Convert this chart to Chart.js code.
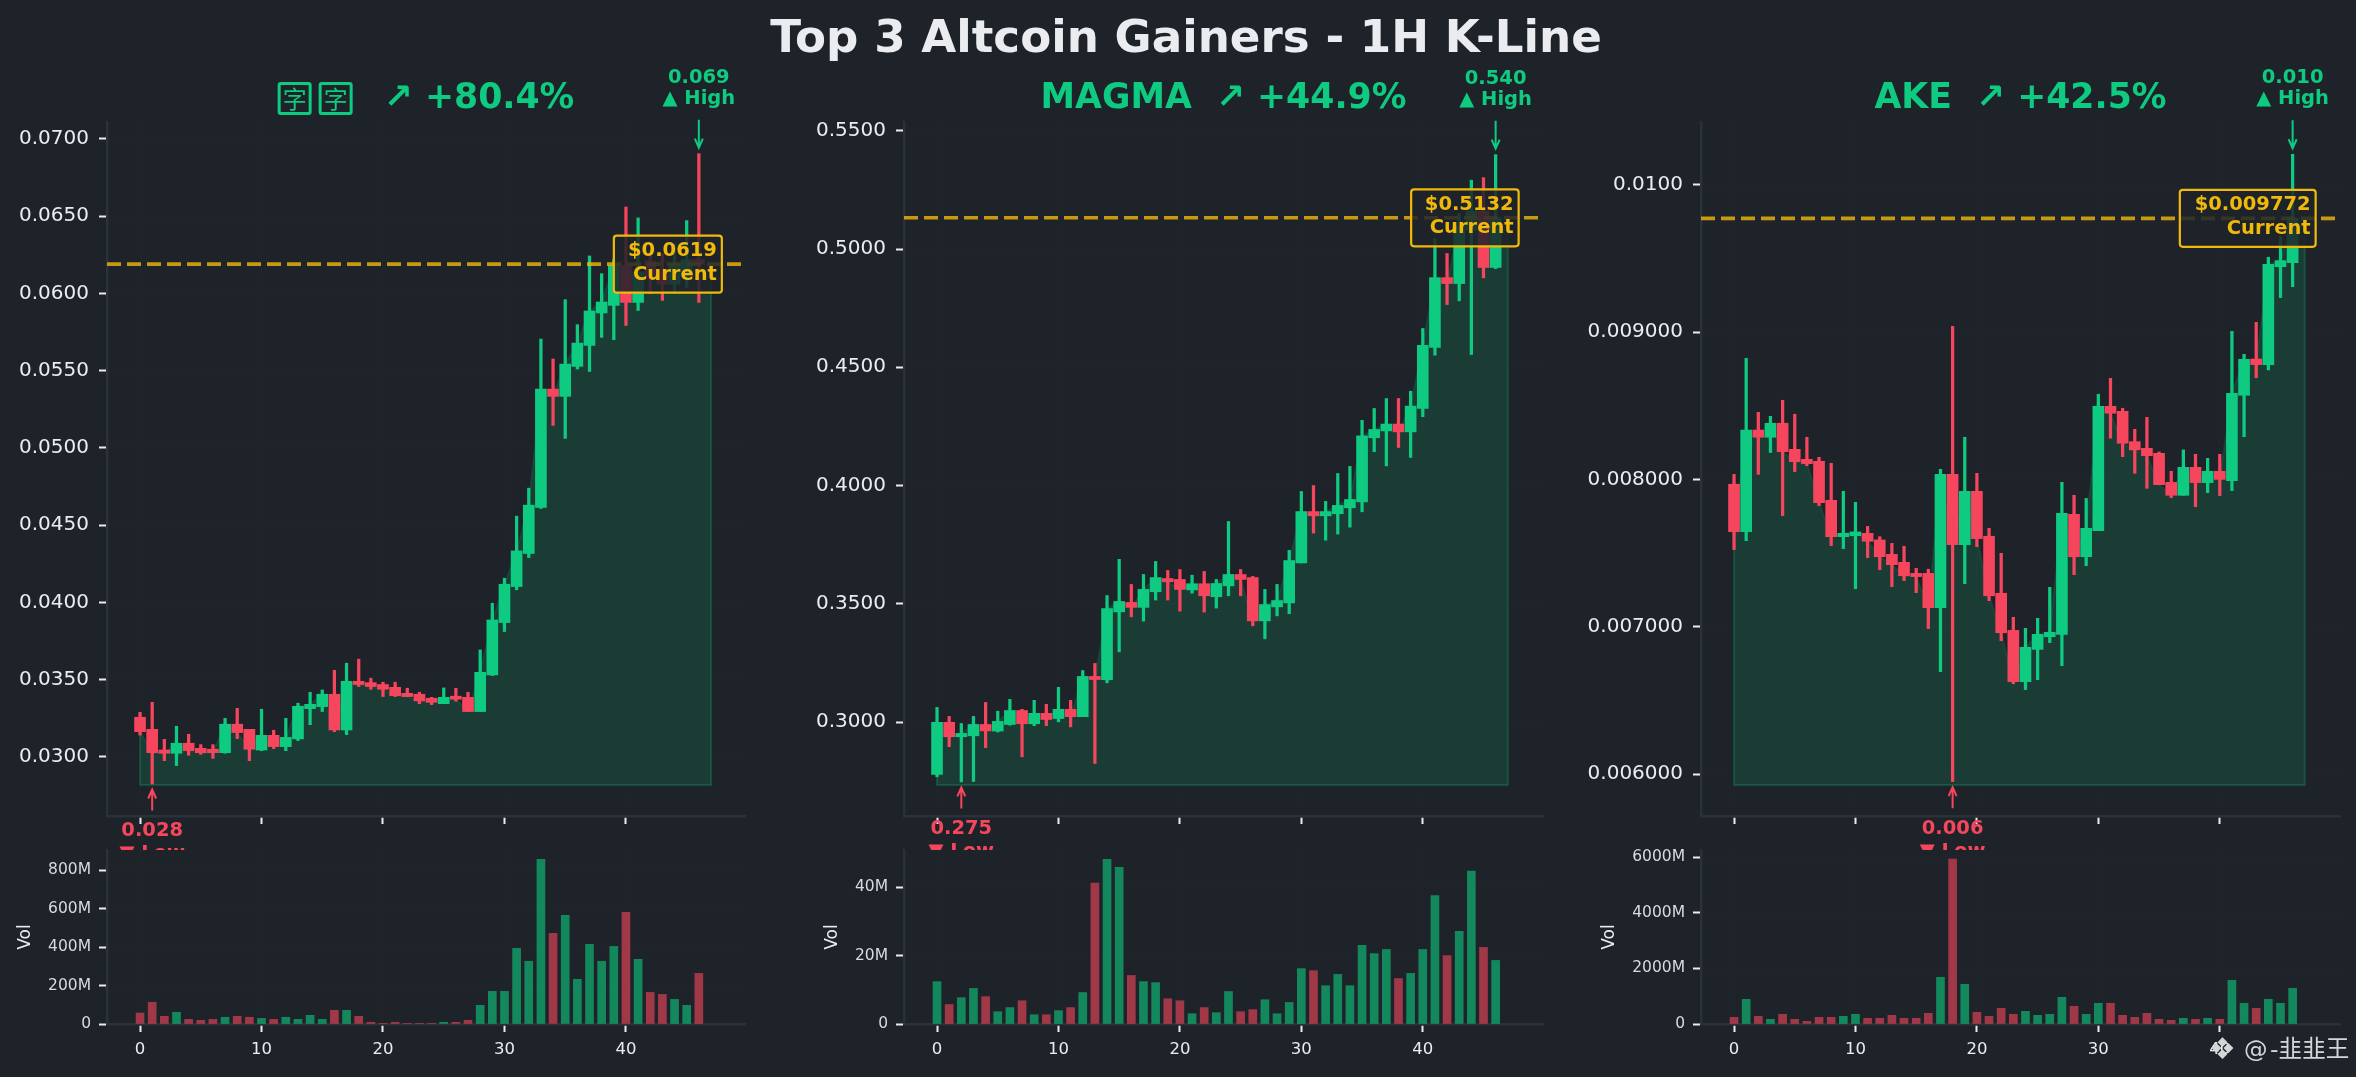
<!DOCTYPE html>
<html><head><meta charset="utf-8">
<script src="https://cdn.jsdelivr.net/npm/chart.js@4"></script>
<style>
html,body{margin:0;padding:0;background:#1e2329;width:2356px;height:1077px;overflow:hidden}
canvas{position:absolute;left:0;top:0}
.t{position:absolute;font-family:"DejaVu Sans";font-weight:700;white-space:pre;line-height:1;z-index:20}
.box{display:inline-block;box-sizing:border-box;width:34px;height:33px;border:3px solid #0ecb81;border-radius:3px;font:400 24px/26px "Noto Sans CJK SC";text-align:center;vertical-align:0;margin-right:7px}
</style></head><body>
<script>
const p1Open=[.03257,.03179,.03045,.03024,.03089,.03056,.0305,.03028,.03212,.03179,.03045,.0314,.03067,.03117,.03313,.03326,.03406,.03175,.0349,.03481,.03469,.03451,.03412,.03406,.0338,.03345,.03393,.03386,.03294,.03531,.0387,.04103,.04317,.04615,.05381,.05334,.05528,.05664,.05874,.05923,.0618,.05942,.0621,.0614,.0606,.0612,.0622];
const p1Close=[.03164,.03028,.03024,.03089,.03041,.03028,.03028,.03212,.03158,.0305,.0314,.03067,.03127,.03328,.03341,.03406,.03175,.0349,.03469,.03456,.03438,.03397,.03391,.03363,.03354,.03386,.03374,.03294,.03548,.03887,.04118,.04334,.0463,.05381,.05334,.05543,.05679,.05887,.05945,.0618,.05942,.0614,.061,.0606,.0619,.0622,.0619];
const p1High=[.03289,.03354,.03114,.03199,.03147,.0308,.0308,.0325,.03315,.03179,.03309,.03173,.0325,.03348,.03419,.03434,.03561,.03607,.03633,.0351,.03484,.03484,.03445,.03419,.03386,.03447,.03445,.03419,.03693,.03995,.04157,.04559,.0474,.05705,.05576,.0596,.05798,.06243,.06128,.0622,.0656,.06489,.0628,.0626,.0632,.06472,.06905];
const p1Low=[.03142,.02825,.02976,.02944,.03011,.03017,.02991,.03024,.03119,.02976,.03041,.03054,.03041,.03106,.03209,.03294,.03164,.03145,.03456,.03438,.03391,.03391,.03391,.03345,.03339,.03345,.03361,.03294,.03294,.03527,.03812,.04082,.04291,.04608,.05146,.05062,.05511,.05495,.05716,.05701,.05793,.0589,.06,.05955,.0601,.0604,.05942];
const p1Vol=[57,113,40,61,24,19,24,35,40,35,29,24,35,24,45,24,71,71,40,9,2,9,2,2,2,9,9,19,97,170,170,393,326,855,471,565,232,414,326,403,580,336,164,154,128,97,263];

const p2Open=[.27788,.2999,.2938,.2942,.299,.2962,.299,.3049,.2993,.3037,.3015,.3054,.3023,.3193,.3179,.3466,.3506,.3485,.3551,.3607,.3603,.3559,.3585,.353,.3576,.3624,.3611,.3428,.3487,.3504,.3673,.389,.3872,.3881,.3906,.3931,.4202,.4231,.426,.4227,.4326,.4584,.4879,.4854,.508,.516,.4922];
const p2Close=[.2999,.2938,.2952,.299,.2963,.3003,.3049,.2993,.3037,.3011,.3054,.3023,.3193,.318,.348,.351,.3485,.3561,.3611,.3593,.3561,.3585,.3534,.3586,.3624,.3603,.3428,.3497,.3514,.3683,.389,.3872,.389,.3916,.3941,.421,.4237,.426,.4227,.4336,.4593,.4879,.4854,.51,.516,.4922,.5132];
const p2High=[.3062,.3024,.2994,.3024,.3083,.3046,.3096,.3054,.3092,.3075,.3147,.3092,.3218,.3248,.3535,.3688,.3582,.3624,.3679,.3641,.3645,.3621,.3637,.3603,.3848,.3645,.3616,.3561,.3582,.3726,.3975,.4,.3933,.4051,.4081,.4276,.4326,.4368,.4368,.4399,.4664,.5044,.4981,.515,.5291,.5302,.5399];
const p2Low=[.2769,.2896,.2747,.2749,.2892,.2958,.2987,.2853,.2985,.2985,.3001,.298,.3023,.2825,.3166,.3297,.3445,.3427,.3516,.3516,.3469,.3545,.3465,.3482,.3534,.3534,.3407,.3352,.3449,.3458,.3673,.3799,.3769,.3795,.3824,.3889,.4143,.4083,.4161,.4119,.4291,.4551,.4765,.4781,.4554,.4878,.4917];
const p2Vol=[12.4,5.7,7.7,10.4,8,3.6,4.8,6.8,2.7,2.7,3.9,4.8,9.2,41.2,48.2,45.8,14.2,12.4,12.1,7.4,6.8,3,4.8,3.3,9.5,3.6,4.2,7.1,3,6.3,16.2,15.6,11.2,14.5,11.2,23,20.6,21.8,13.3,14.8,21.8,37.6,20,27.1,44.7,22.4,18.6];

const p3Open=[.007967,.007645,.008335,.008286,.008381,.008204,.008136,.008123,.007858,.007611,.007618,.007634,.007589,.007491,.007437,.007362,.007362,.007129,.008034,.007557,.007919,.007614,.007227,.006975,.006627,.006846,.006932,.006948,.007763,.007475,.007652,.008496,.008462,.008256,.008211,.008177,.00798,.007892,.008082,.007978,.008055,.007991,.008571,.008817,.008779,.009444,.009471];
const p3Close=[.007645,.008335,.008286,.008381,.008188,.00812,.008107,.007842,.007611,.007634,.007643,.00758,.007475,.007421,.007346,.00734,.007129,.008034,.007557,.007919,.007598,.00721,.006959,.006627,.00686,.006948,.006962,.00777,.007475,.007668,.008496,.008449,.008245,.0082,.008161,.007964,.007892,.008082,.007978,.008055,.008,.008584,.008815,.008779,.00946,.009485,.009772];
const p3High=[.008034,.008822,.008455,.008428,.008537,.008442,.008286,.00815,.008109,.007919,.007844,.007681,.007611,.007566,.007546,.007396,.00739,.008068,.009039,.008286,.008041,.007668,.007498,.007064,.006989,.007057,.007267,.00798,.007892,.007871,.008578,.008686,.008483,.00834,.008421,.008186,.008055,.0082,.00817,.008143,.00817,.009005,.008849,.009066,.009508,.009648,.010207];
const p3Low=[.007523,.007584,.008034,.008182,.007754,.008053,.008093,.007822,.00755,.00753,.007258,.007469,.007387,.007272,.007313,.007231,.006987,.006695,.005948,.007292,.007543,.007177,.006905,.006613,.006573,.00664,.006892,.006735,.007353,.007414,.007652,.008279,.008154,.008041,.007939,.007964,.007876,.007892,.007815,.00791,.00789,.007924,.00829,.00869,.008743,.009234,.009308];
const p3Vol=[240,889,276,168,348,168,96,240,240,276,348,204,204,312,204,204,384,1681,5933,1429,420,276,564,348,456,312,348,961,637,348,745,745,312,240,384,168,132,204,168,204,168,1573,745,564,889,745,1285];

const xTicks=[0,10,20,30,40];
const p1YTicks=[.03,.035,.04,.045,.05,.055,.06,.065,.07];
const p2YTicks=[.3,.35,.4,.45,.5,.55];
const p3YTicks=[.006,.007,.008,.009,.01];
const p1VolTicks=[0,200,400,600,800];
const p2VolTicks=[0,20,40];
const p3VolTicks=[0,2000,4000,6000];
const names=['字字','MAGMA','AKE'];
const gains=['↗ +80.4%','↗ +44.9%','↗ +42.5%'];
const currents=[.0619,.5132,.009772];
const currentLabels=['$0.0619','$0.5132','$0.009772'];
const highLabels=['0.069','0.540','0.010'];
const lowLabels=['0.028','0.275','0.006'];
const areaBases=[.02819,.2734,.005925];
const title='Top 3 Altcoin Gainers - 1H K-Line';
const watermark='@ -韭韭王';

const W=2356,H=1077,BG='#1e2329',UP='#0ecb81',DOWN='#f6465d',GOLD='#f0b90b',SPINE='#2b3139',TXT='#eaecef';
const layouts=[
 {l:107,r:745,x0:-2.72,x1:49.8,y0:.02618,y1:.0711,v1:904,volX:26,boxW:108},
 {l:904,r:1543,x0:-2.72,x1:49.9,y0:.2603,y1:.5537,v1:50.9,volX:833,boxW:107.5},
 {l:1701,r:2340,x0:-2.72,x1:49.9,y0:.005715,y1:.010426,v1:6259,volX:1609.5,boxW:135.8}
];
const mainTop=122,mainBot=816,volTop=850,volBot=1024;
const ANNOT='700 19.5px "DejaVu Sans"';

function grid(){return {offset:false,color:'rgba(255,255,255,0.012)',borderDash:[2,4],tickColor:TXT,tickWidth:2,tickLength:8,tickBorderDash:[]};}
function axisBorder(){return {color:SPINE,width:2.5};}
function setTicks(arr){return s=>{s.ticks=arr.map(v=>({value:v}));};}
function fix(k,n){return s=>{s[k]=n;};}
function text(ctx,str,x,y,font,color,align){ctx.font=font;ctx.fillStyle=color;ctx.textAlign=align||'center';ctx.textBaseline='middle';ctx.fillText(str,x,y);}
function arrow(ctx,x,y0,y1,color){const d=y1>y0?1:-1;ctx.strokeStyle=color;ctx.lineWidth=2;ctx.beginPath();ctx.moveTo(x,y0);ctx.lineTo(x,y1);ctx.moveTo(x-4,y1-d*9);ctx.lineTo(x,y1);ctx.lineTo(x+4,y1-d*9);ctx.stroke();}
function yWidth(L){return Math.min(L.l,120);}

function mainChart(i,o,h,lo,c,yTicks,fmt){
 const L=layouts[i],idx=o.map((_,k)=>k),base=areaBases[i],cur=currents[i],last=idx.length;
 const hi=h.indexOf(Math.max(...h)),li=lo.indexOf(Math.min(...lo));
 const colors=idx.map(k=>c[k]>=o[k]?UP:DOWN);
 const cv=document.createElement('canvas');cv.width=W;cv.height=H;cv.style.zIndex=1;document.body.appendChild(cv);
 const annot={id:'annot',afterDraw(ch){
  const ctx=ch.ctx,xs=ch.scales.x,ys=ch.scales.y;ctx.save();
  const xh=xs.getPixelForValue(hi),yh=ys.getPixelForValue(h[hi]);
  arrow(ctx,xh,yh-34,yh-6,UP);
  text(ctx,highLabels[i],xh,yh-76,ANNOT,UP);
  text(ctx,'▲ High',xh,yh-55,ANNOT,UP);
  const xl=xs.getPixelForValue(li),yl=ys.getPixelForValue(lo[li]);
  arrow(ctx,xl,yl+26.5,yl+5.5,DOWN);
  text(ctx,lowLabels[i],xl,yl+47,ANNOT,DOWN);
  text(ctx,'▼ Low',xl,yl+70,ANNOT,DOWN);
  const xr=xs.getPixelForValue(46)+23,yc=ys.getPixelForValue(cur),bh=57;
  ctx.beginPath();ctx.roundRect(xr-L.boxW,yc-bh/2,L.boxW,bh,3);
  ctx.fillStyle='rgba(30,35,41,0.85)';ctx.fill();ctx.strokeStyle=GOLD;ctx.lineWidth=2.2;ctx.stroke();
  text(ctx,currentLabels[i],xr-5,yc-13,ANNOT,GOLD,'right');
  text(ctx,'Current',xr-5,yc+10.5,ANNOT,GOLD,'right');
  ctx.restore();
 }};
 const closeLine=[...idx.map(k=>({x:k,y:c[k]})),{x:last,y:c[last-1]}];
 new Chart(cv.getContext('2d'),{type:'bar',plugins:[annot],data:{datasets:[
  {type:'line',order:0,data:[{x:L.x0,y:cur},{x:L.x1,y:cur}],borderColor:'rgba(240,185,11,0.8)',borderWidth:3.6,borderDash:[14,6],pointRadius:0,fill:false},
  {type:'bar',order:1,grouped:false,barThickness:11,minBarLength:3,data:idx.map(k=>({x:k,y:[o[k],c[k]]})),backgroundColor:colors,borderWidth:0},
  {type:'bar',order:2,grouped:false,barThickness:2.6,data:idx.map(k=>({x:k,y:[lo[k],h[k]]})),backgroundColor:colors,borderWidth:0},
  {type:'line',order:3,data:[{x:0,y:c[0]},{x:0,y:base},{x:last,y:base},{x:last,y:c[last-1]}],borderColor:'rgba(14,203,129,0.22)',borderWidth:2,pointRadius:0,tension:0,fill:false},
  {type:'line',order:4,data:closeLine,borderColor:'rgba(14,203,129,0.12)',borderWidth:2,backgroundColor:'rgba(14,203,129,0.15)',pointRadius:0,tension:0,fill:{value:base}}
 ]},options:{responsive:false,animation:false,devicePixelRatio:1,
  layout:{padding:{left:L.l-yWidth(L),right:W-L.r,top:mainTop,bottom:H-mainBot-60}},
  plugins:{legend:{display:false},tooltip:{enabled:false}},
  scales:{
   x:{type:'linear',offset:false,min:L.x0,max:L.x1,afterFit:fix('height',60),afterBuildTicks:setTicks(xTicks),border:axisBorder(),grid:grid(),ticks:{display:false}},
   y:{type:'linear',min:L.y0,max:L.y1,afterFit:fix('width',yWidth(L)),afterBuildTicks:setTicks(yTicks),border:axisBorder(),grid:grid(),
      ticks:{callback:fmt,color:TXT,padding:10,autoSkip:false,font:{family:'DejaVu Sans',size:20}}}
  }}});
}
function volChart(i,v,o,c,vTicks){
 const L=layouts[i],idx=v.map((_,k)=>k);
 const colors=idx.map(k=>c[k]>=o[k]?'rgba(14,203,129,0.6)':'rgba(246,70,93,0.6)');
 const cv=document.createElement('canvas');cv.width=W;cv.height=H;cv.style.zIndex=2;document.body.appendChild(cv);
 const bg={id:'bg',beforeDraw(ch){const a=ch.chartArea,ctx=ch.ctx;ctx.save();ctx.fillStyle=BG;ctx.fillRect(a.left,a.top,a.right-a.left,a.bottom-a.top);ctx.restore();},
  afterDraw(ch){const ctx=ch.ctx;ctx.save();ctx.translate(L.volX,(volTop+volBot)/2);ctx.rotate(-Math.PI/2);text(ctx,'Vol',0,0,'17px "DejaVu Sans"',TXT);ctx.restore();}};
 new Chart(cv.getContext('2d'),{type:'bar',plugins:[bg],data:{datasets:[
  {data:idx.map(k=>({x:k,y:v[k]})),backgroundColor:colors,barThickness:8,borderWidth:0}
 ]},options:{responsive:false,animation:false,devicePixelRatio:1,
  layout:{padding:{left:L.l-yWidth(L),right:W-L.r,top:volTop,bottom:0}},
  plugins:{legend:{display:false},tooltip:{enabled:false}},
  scales:{
   x:{type:'linear',offset:false,min:L.x0,max:L.x1,afterFit:fix('height',H-volBot),afterBuildTicks:setTicks(xTicks),border:axisBorder(),grid:grid(),
      ticks:{color:TXT,padding:8,maxRotation:0,autoSkip:false,font:{family:'DejaVu Sans',size:16.5}}},
   y:{type:'linear',min:0,max:L.v1,afterFit:fix('width',yWidth(L)),afterBuildTicks:setTicks(vTicks),border:axisBorder(),grid:grid(),
      ticks:{callback:t=>t===0?'0':t+'M',color:'#d8dadd',padding:8,autoSkip:false,font:{family:'DejaVu Sans',size:15.5}}}
  }}});
}
const f4=t=>t.toFixed(4);
const f3=t=>t>=.0099?t.toFixed(4):t.toFixed(6);
mainChart(0,p1Open,p1High,p1Low,p1Close,p1YTicks,f4);volChart(0,p1Vol,p1Open,p1Close,p1VolTicks);
mainChart(1,p2Open,p2High,p2Low,p2Close,p2YTicks,f4);volChart(1,p2Vol,p2Open,p2Close,p2VolTicks);
mainChart(2,p3Open,p3High,p3Low,p3Close,p3YTicks,f3);volChart(2,p3Vol,p3Open,p3Close,p3VolTicks);

function div(str,css){const d=document.createElement('div');d.className='t';d.style.cssText=css;d.textContent=str;document.body.appendChild(d);return d;}
div(title,'left:1186px;top:14px;transform:translateX(-50%);font-size:45.2px;color:#eaecef');
layouts.forEach((L,i)=>{
 const d=div('',`left:${(L.l+L.r)/2}px;top:79px;transform:translateX(-50%);font-size:34.7px;color:${UP}`);
 if(i===0){[...names[0]].forEach(ch=>{const s=document.createElement('span');s.className='box';s.textContent=ch;d.appendChild(s);});}
 else d.appendChild(document.createTextNode(names[i]));
 d.appendChild(document.createTextNode('  '+gains[i]));
});
div('❖','left:2209px;top:1034px;font-size:30px;font-weight:400;color:#d4d6d8');
div(watermark,'left:2244px;top:1038px;font-size:23.6px;font-weight:400;word-spacing:-5px;color:#d4d6d8;font-family:"DejaVu Sans","Noto Sans CJK SC"');
</script>
</body></html>
